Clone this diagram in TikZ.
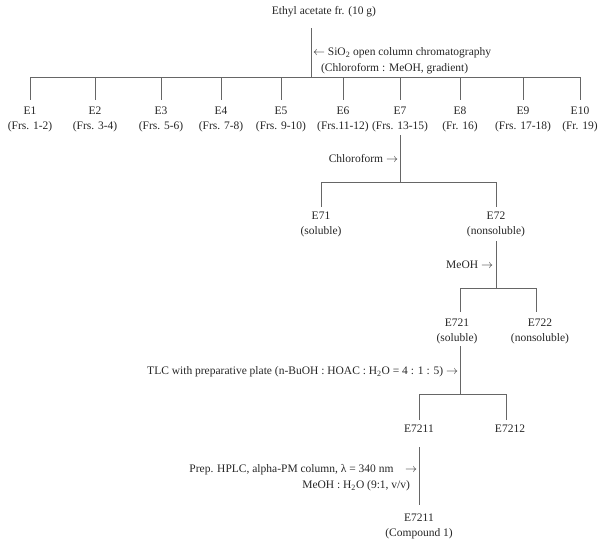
\documentclass[tikz,border=0pt]{standalone}
\usepackage{fontspec}
\setmainfont{Liberation Serif}
\begin{document}
\begin{tikzpicture}[x=1pt,y=-1pt,
  lbl/.style={inner sep=0pt, outer sep=0pt, text=black!85, font=\fontsize{11.5}{15}\selectfont, align=center},
  ln/.style={draw=black!60, line width=0.8pt}]
\useasboundingbox (0,0) rectangle (600,544);
% title
\node[lbl] (top) at (324,12) {Ethyl acetate fr. (10 g)};
\coordinate (t0) at (311,28);
\coordinate (j0) at (311,77);
\draw[ln] (t0) -- (j0);
\node[lbl,anchor=west] (sio) at (313,53) {$\leftarrow$ SiO\textsubscript{2} open column chromatography};
\node[lbl,anchor=west] (chl) at (321,69) {(Chloroform : MeOH, gradient)};
% first level
\coordinate (hL) at (30,77);
\coordinate (hR) at (580,77);
\draw[ln] (hL) -- (hR);
\foreach \n/\x/\t in {1/30/{(Frs. 1-2)},2/95/{(Frs. 3-4)},3/161/{(Frs. 5-6)},4/221/{(Frs. 7-8)},5/281/{(Frs. 9-10)},6/343/{(Frs.11-12)},7/400/{(Frs. 13-15)},8/460/{(Fr. 16)},9/523/{(Frs. 17-18)},10/580/{(Fr. 19)}}{
  \node[lbl] (e\n) at (\x,119.5) {E\n\\\t};
  \coordinate (d\n) at (\x,100);
  \draw[ln] (e\n |- hL) -- (d\n);
}
% E7 split
\coordinate (e7b) at (400,135);
\coordinate (j7) at (400,182);
\draw[ln] (e7b) -- (j7);
\node[lbl,anchor=east] (chf) at (398,159) {Chloroform $\rightarrow$};
\coordinate (j71) at (321,182);
\coordinate (j72) at (496,182);
\draw[ln] (j71) -- (j72);
\node[lbl] (e71) at (321,224.5) {E71\\(soluble)};
\node[lbl] (e72) at (496,224.5) {E72\\(nonsoluble)};
\coordinate (d71) at (321,207);
\coordinate (d72) at (496,207);
\draw[ln] (j71) -- (d71);
\draw[ln] (j72) -- (d72);
% E72 split
\coordinate (e72b) at (496,241);
\coordinate (j720) at (496,288);
\draw[ln] (e72b) -- (j720);
\node[lbl,anchor=east] (meoh) at (493,265) {MeOH $\rightarrow$};
\coordinate (j721) at (460,288);
\coordinate (j722) at (536,288);
\draw[ln] (j721) -- (j722);
\coordinate (d721) at (460,312);
\coordinate (d722) at (536,312);
\draw[ln] (j721) -- (d721);
\draw[ln] (j722) -- (d722);
\node[lbl] (e721) at (457,331) {E721\\(soluble)};
\node[lbl] (e722) at (540,331) {E722\\(nonsoluble)};
% E721 split
\coordinate (e721b) at (460,346);
\coordinate (j7210) at (460,394);
\draw[ln] (e721b) -- (j7210);
\node[lbl,anchor=east] (tlc) at (458,372) {TLC with preparative plate (n-BuOH : HOAC : H\textsubscript{2}O = 4 : 1 : 5) $\rightarrow$};
\coordinate (j7211) at (419,394);
\coordinate (j7212) at (506,394);
\draw[ln] (j7211) -- (j7212);
\coordinate (d7211) at (419,420);
\coordinate (d7212) at (506,420);
\draw[ln] (j7211) -- (d7211);
\draw[ln] (j7212) -- (d7212);
\node[lbl] (e7211) at (419,429) {E7211};
\node[lbl] (e7212) at (510,429) {E7212};
% HPLC
\coordinate (e7211b) at (419,447);
\coordinate (fin) at (419,505);
\draw[ln] (e7211b) -- (fin);
\node[lbl,anchor=east] (hplc1) at (417,470) {Prep. HPLC, alpha-PM column, λ = 340 nm\quad $\rightarrow$};
\node[lbl,anchor=east] (hplc2) at (410,486) {MeOH : H\textsubscript{2}O (9:1, v/v)};
\node[lbl] (cmp) at (419,526.5) {E7211\\(Compound 1)};
\end{tikzpicture}
\end{document}
